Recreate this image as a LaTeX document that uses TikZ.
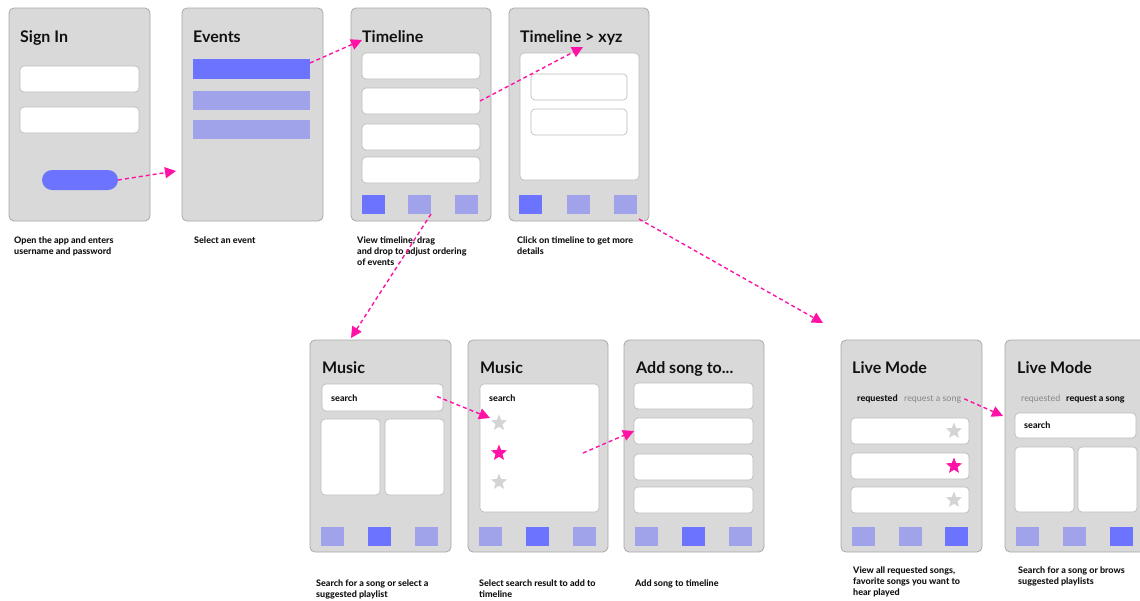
\documentclass[tikz,border=0pt]{standalone}
\usepackage{fontspec}
\setmainfont{Lato}
\IfFontExistsTF{Lato Heavy}{\newfontfamily\heavyface{Lato Heavy}}{%
  \IfFontExistsTF{Lato Black}{\newfontfamily\heavyface{Lato Black}}{\newcommand\heavyface{\bfseries}}}
\usetikzlibrary{arrows.meta,shapes.geometric,fit}

\definecolor{screen}{HTML}{D9D9D9}
\definecolor{screenedge}{HTML}{A8A8A8}
\definecolor{fieldedge}{HTML}{BDBDBD}
\definecolor{active}{HTML}{6B73FF}
\definecolor{idle}{HTML}{A0A3EA}
\definecolor{flow}{HTML}{FF12A5}
\definecolor{stargray}{HTML}{D4D4D4}
\definecolor{ink}{HTML}{111111}
\definecolor{muted}{HTML}{858585}

\tikzset{
  box/.style={inner sep=0pt, outer sep=0pt},
  screenbox/.style={box, fill=screen, draw=screenedge, line width=0.8pt, rounded corners=5pt},
  field/.style={box, fill=white, draw=fieldedge, line width=0.7pt, rounded corners=4pt},
  pill/.style={box, fill=active, rounded corners=10pt},
  tabon/.style={box, fill=active},
  taboff/.style={box, fill=idle},
  title/.style={anchor=base west, inner sep=0pt, font=\bfseries\fontsize{16}{18}\selectfont, text=ink},
  caption/.style={anchor=north west, inner sep=0pt, align=left, font=\heavyface\fontsize{9}{11}\selectfont, text=ink},
  small/.style={anchor=base west, inner sep=0pt, font=\heavyface\fontsize{9}{10}\selectfont, text=ink},
  smalloff/.style={anchor=base west, inner sep=0pt, font=\fontsize{8.9}{10}\selectfont, text=muted},
  fav/.style={star, star points=5, star point ratio=2.3, fill=#1, minimum size=17pt, inner sep=0pt},
  flowarrow/.style={draw=flow, line width=1.4pt, dash pattern=on 4pt off 3pt,
    -{Triangle[length=11pt,width=11pt]}},
}

% a named block spanning two corners
\newcommand\blk[6]{\node[#1, fit={(#3,#4)(#5,#6)}] (#2) {};}

\begin{document}
\begin{tikzpicture}[x=1pt,y=-1pt]
\useasboundingbox (0,0) rectangle (1140,600);
\clip (0,0) rectangle (1140,600);

% ---------- Sign In ----------
\blk{screenbox}{s1}{9}{8}{150}{221}
\node[title] (s1title) at (20,42) {Sign In};
\blk{field}{s1f1}{20}{66}{139}{92}
\blk{field}{s1f2}{20}{107}{139}{133}
\blk{pill}{s1btn}{42}{170}{118}{190}
\node[caption] (c1) at (14,236.5) {Open the app and enters\\username and password};

% ---------- Events ----------
\blk{screenbox}{s2}{182}{8}{323}{221}
\node[title] (s2title) at (193,42) {Events};
\blk{tabon}{s2b1}{193}{59}{310}{79}
\blk{taboff}{s2b2}{193}{91}{310}{110}
\blk{taboff}{s2b3}{193}{120}{310}{139}
\node[caption] (c2) at (194,236.5) {Select an event};

% ---------- Timeline ----------
\blk{screenbox}{s3}{351}{8}{491}{221}
\node[title] (s3title) at (362,42) {Timeline};
\blk{field}{s3f1}{362}{53}{480}{79}
\blk{field}{s3f2}{362}{88}{480}{114}
\blk{field}{s3f3}{362}{124}{480}{150}
\blk{field}{s3f4}{362}{157}{480}{183}
\blk{tabon}{s3t1}{362}{195}{385}{214}
\blk{taboff}{s3t2}{408}{195}{431}{214}
\blk{taboff}{s3t3}{455}{195}{478}{214}
\node[caption] (c3) at (357,236.5) {View timeline, drag\\and drop to adjust ordering\\of events};

% ---------- Timeline > xyz ----------
\blk{screenbox}{s4}{509}{8}{649}{221}
\node[title] (s4title) at (520,42) {Timeline > xyz};
\blk{field}{s4p}{520}{53}{639}{180}
\blk{field}{s4f1}{531}{74}{627}{100}
\blk{field}{s4f2}{531}{109}{627}{135}
\blk{tabon}{s4t1}{519}{195}{542}{214}
\blk{taboff}{s4t2}{567}{195}{590}{214}
\blk{taboff}{s4t3}{614}{195}{637}{214}
\node[caption] (c4) at (517,236.5) {Click on timeline to get more\\details};

% ---------- Music (search) ----------
\blk{screenbox}{s5}{310}{340}{451}{552}
\node[title] (s5title) at (322,373) {Music};
\blk{field}{s5s}{322}{384}{443}{411}
\node[small] (s5st) at (331,401) {search};
\blk{field}{s5p1}{321}{419}{380}{495}
\blk{field}{s5p2}{385}{419}{444}{495}
\blk{taboff}{s5t1}{321}{527}{344}{546}
\blk{tabon}{s5t2}{368}{527}{391}{546}
\blk{taboff}{s5t3}{415}{527}{438}{546}
\node[caption] (c5) at (316,579.5) {Search for a song or select a\\suggested playlist};

% ---------- Music (results) ----------
\blk{screenbox}{s6}{468}{340}{608}{552}
\node[title] (s6title) at (480,373) {Music};
\blk{field}{s6p}{480}{384}{599}{512}
\node[small] (s6st) at (489,401) {search};
\node[fav=stargray] (s6r1) at (499,423) {};
\node[fav=flow] (s6r2) at (499,453) {};
\node[fav=stargray] (s6r3) at (499,482) {};
\coordinate (s6pick) at (583,453);
\blk{taboff}{s6t1}{479}{527}{502}{546}
\blk{tabon}{s6t2}{526}{527}{549}{546}
\blk{taboff}{s6t3}{573}{527}{596}{546}
\node[caption] (c6) at (479,579.5) {Select search result to add to\\timeline};

% ---------- Add song to... ----------
\blk{screenbox}{s7}{624}{340}{764}{552}
\node[title] (s7title) at (636,373) {Add song to...};
\blk{field}{s7f1}{634}{383}{753}{409}
\blk{field}{s7f2}{634}{418}{753}{444}
\blk{field}{s7f3}{634}{454}{753}{480}
\blk{field}{s7f4}{634}{487}{753}{513}
\blk{taboff}{s7t1}{635}{527}{658}{546}
\blk{tabon}{s7t2}{682}{527}{705}{546}
\blk{taboff}{s7t3}{729}{527}{752}{546}
\node[caption] (c7) at (635,579.5) {Add song to timeline};

% ---------- Live Mode (requested) ----------
\blk{screenbox}{s8}{841}{340}{982}{552}
\node[title] (s8title) at (852,373) {Live Mode};
\node[small] (s8req) at (857,401) {requested};
\node[smalloff] (s8ask) at (904,401) {request a song};
\blk{field}{s8f1}{851}{418}{969}{444}
\blk{field}{s8f2}{851}{453}{969}{479}
\blk{field}{s8f3}{851}{487}{969}{513}
\node[fav=stargray] (s8r1) at (954,431) {};
\node[fav=flow] (s8r2) at (954,466) {};
\node[fav=stargray] (s8r3) at (954,500) {};
\blk{taboff}{s8t1}{852}{527}{875}{546}
\blk{taboff}{s8t2}{899}{527}{922}{546}
\blk{tabon}{s8t3}{945}{527}{968}{546}
\node[caption] (c8) at (853,566.5) {View all requested songs,\\favorite songs you want to\\hear played};

% ---------- Live Mode (request a song) ----------
\blk{screenbox}{s9}{1005}{340}{1146}{552}
\node[title] (s9title) at (1017,373) {Live Mode};
\node[smalloff] (s9req) at (1021,401) {requested};
\node[small] (s9ask) at (1066,401) {request a song};
\blk{field}{s9s}{1015}{413}{1136}{438}
\node[small] (s9st) at (1024,428) {search};
\blk{field}{s9p1}{1015}{447}{1074}{512}
\blk{field}{s9p2}{1078}{447}{1137}{512}
\blk{taboff}{s9t1}{1016}{527}{1039}{546}
\blk{taboff}{s9t2}{1063}{527}{1086}{546}
\blk{tabon}{s9t3}{1110}{527}{1133}{546}
\node[caption] (c9) at (1018,566.5) {Search for a song or brows\\suggested playlists};

% ---------- flow arrows ----------
\coordinate (a1) at (176,171);
\coordinate (a2) at (362,40);
\coordinate (a3) at (583,47);
\coordinate (a4) at (351,338);
\coordinate (a5) at (823,323);
\coordinate (a6) at (490,418);
\coordinate (a8) at (1003,416);

\draw[flowarrow] (s1btn.east) -- (a1);
\draw[flowarrow] ([yshift=6pt]s2b1.east) -- (a2);
\draw[flowarrow] (s3f2.east) -- (a3);
\draw[flowarrow] (s3t2.south east) -- (a4);
\draw[flowarrow] ([xshift=-10pt,yshift=2pt]s4.south east) -- (a5);
\draw[flowarrow] ([xshift=-6pt,yshift=1pt]s5s.east) -- (a6);
\draw[flowarrow] (s6pick) -- (s7f2.west);
\draw[flowarrow] ([xshift=3pt]s8ask.east) -- (a8);
\end{tikzpicture}
\end{document}
